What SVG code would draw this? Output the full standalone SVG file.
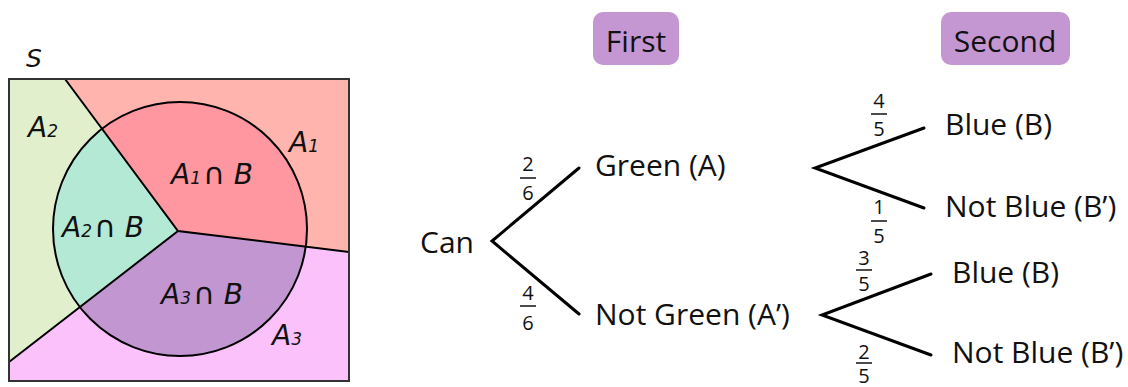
<svg xmlns="http://www.w3.org/2000/svg" width="1128" height="387" viewBox="0 0 1128 387">
<style>
.t{font-family:"Open Sans","Noto Sans",sans-serif;font-size:30px;fill:#111}
.f{font-family:"Open Sans","Noto Sans",sans-serif;font-size:20px;fill:#111;text-anchor:middle}
.v{font-family:"DejaVu Sans",sans-serif;font-size:28px;font-style:italic;fill:#111}
.sub{font-size:17px}
.cap{font-style:normal;font-size:30px}
.edge{stroke:#000;stroke-width:3;fill:none;stroke-linecap:round}
.bar{stroke:#111;stroke-width:1.5}
.hdr{fill:#c497d3}
.bd{stroke:#000;stroke-width:2;fill:none}
</style>
<defs>
<clipPath id="circ"><circle cx="180" cy="229" r="127"/></clipPath>
<clipPath id="box"><rect x="9" y="79" width="340" height="302"/></clipPath>
</defs>
<g id="venn">
<g clip-path="url(#box)">
<polygon points="9,79 65,79 178,231 9,362" fill="#e2efcd"/>
<polygon points="65,79 349,79 349,252 178,231" fill="#ffb4ad"/>
<polygon points="178,231 349,252 349,381 9,381 9,362" fill="#fac1fb"/>
<g clip-path="url(#circ)">
<polygon points="9,79 65,79 178,231 9,362" fill="#b4e9d6"/>
<polygon points="65,79 349,79 349,252 178,231" fill="#ff97a1"/>
<polygon points="178,231 349,252 349,381 9,381 9,362" fill="#c196d1"/>
</g>
</g>
<polyline class="bd" points="65,79 178,231 349,252"/>
<line class="bd" x1="178" y1="231" x2="9" y2="362"/>
<circle class="bd" cx="180" cy="229" r="127"/>
<rect x="9" y="79" width="340" height="302" fill="none" stroke="#333" stroke-width="2"/>
<text class="v" x="26" y="67" style="font-size:25px">S</text>
<text class="v" x="28" y="137">A<tspan class="sub">2</tspan></text>
<text class="v" x="289" y="152">A<tspan class="sub">1</tspan></text>
<text class="v" x="171" y="184">A<tspan class="sub">1</tspan><tspan class="cap" dx="2">∩</tspan> B</text>
<text class="v" x="62" y="237">A<tspan class="sub">2</tspan><tspan class="cap" dx="2">∩</tspan> B</text>
<text class="v" x="161" y="304">A<tspan class="sub">3</tspan><tspan class="cap" dx="2">∩</tspan> B</text>
<text class="v" x="272" y="345">A<tspan class="sub">3</tspan></text>
</g>
<g id="header-first"><rect class="hdr" x="593" y="12" width="86" height="53" rx="10"/><text class="t" x="636" y="52" text-anchor="middle">First</text></g>
<g id="header-second"><rect class="hdr" x="941" y="12" width="129" height="53" rx="10"/><text class="t" x="1005" y="52" text-anchor="middle">Second</text></g>
<g id="connectors">
<polyline class="edge" points="579,168 492,241 579,314"/>
<polyline class="edge" points="924,128 815,168 924,208"/>
<polyline class="edge" points="931,274 822,315 931,355"/>
</g>
<g id="probs">
<g id="p-2-6"><text class="f" x="528" y="171">2</text><line class="bar" x1="520" y1="178" x2="536" y2="178"/><text class="f" x="528" y="200">6</text></g>
<g id="p-4-6"><text class="f" x="528" y="300">4</text><line class="bar" x1="520" y1="306" x2="536" y2="306"/><text class="f" x="528" y="330">6</text></g>
<g id="p-4-5"><text class="f" x="879" y="108">4</text><line class="bar" x1="871" y1="114" x2="887" y2="114"/><text class="f" x="879" y="136">5</text></g>
<g id="p-1-5"><text class="f" x="879" y="214">1</text><line class="bar" x1="871" y1="221" x2="887" y2="221"/><text class="f" x="879" y="243">5</text></g>
<g id="p-3-5"><text class="f" x="864" y="265">3</text><line class="bar" x1="856" y1="270" x2="872" y2="270"/><text class="f" x="864" y="291">5</text></g>
<g id="p-2-5"><text class="f" x="864" y="359">2</text><line class="bar" x1="856" y1="363" x2="872" y2="363"/><text class="f" x="864" y="383">5</text></g>
</g>
<g id="node-can"><text class="t" x="420" y="253">Can</text></g>
<g id="node-green"><text class="t" x="595" y="176">Green (A)</text></g>
<g id="node-notgreen"><text class="t" x="595" y="325">Not Green (A’)</text></g>
<g id="node-blue1"><text class="t" x="945" y="135">Blue (B)</text></g>
<g id="node-notblue1"><text class="t" x="945" y="217">Not Blue (B’)</text></g>
<g id="node-blue2"><text class="t" x="952" y="283">Blue (B)</text></g>
<g id="node-notblue2"><text class="t" x="952" y="363">Not Blue (B’)</text></g>
</svg>
